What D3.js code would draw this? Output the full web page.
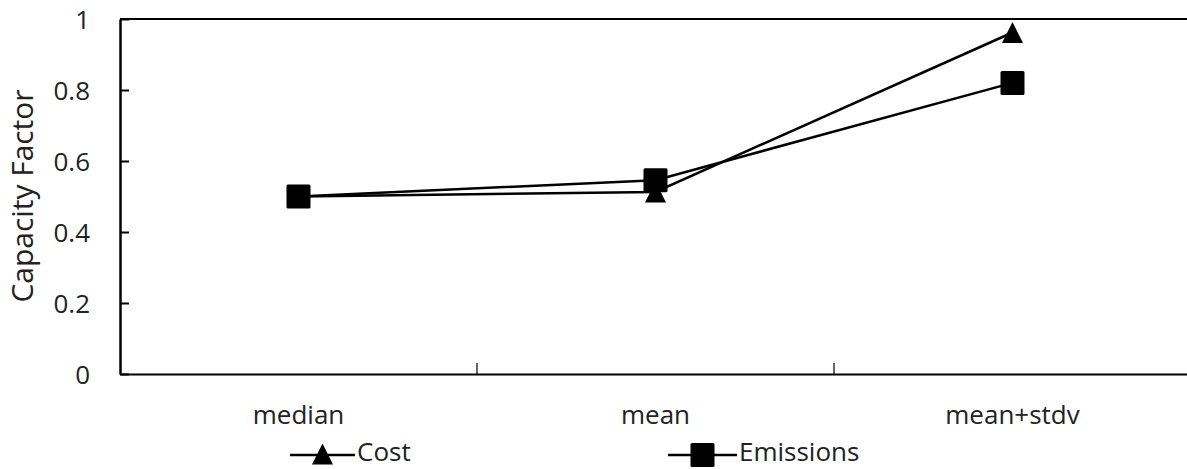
<!DOCTYPE html>
<html>
<head>
<meta charset="utf-8">
<script src="https://cdn.jsdelivr.net/npm/d3@7"></script>
<style>
    body { margin: 0; background: #fff; }
    text { font-family: 'Open Sans', sans-serif; fill: #222; }
</style>
</head>
<body>
<svg id="Chart"></svg>
<script>
let categories = ['median', 'mean', 'mean+stdv'];
let costValues = [0.5, 0.513, 0.962];
let emissionsValues = [0.5, 0.546, 0.82];
let yTicks = [0, 0.2, 0.4, 0.6, 0.8, 1];
let seriesNames = ['Cost', 'Emissions'];

function getConfig() {
    let width = 1187;
    let height = 469;
    let margin = { top: 19, bottom: 95, left: 120, right: -4 };
    let bodyWidth = width - margin.left - margin.right;
    let bodyHeight = height - margin.top - margin.bottom;
    let container = d3.select('#Chart')
        .attr('width', width)
        .attr('height', height);
    return { width, height, margin, bodyWidth, bodyHeight, container };
}

function getScales(config) {
    let { bodyWidth, bodyHeight } = config;
    let xScale = d3.scaleBand()
        .range([0, bodyWidth])
        .domain(categories);
    let yScale = d3.scaleLinear()
        .range([bodyHeight, 0])
        .domain([0, 1]);
    return { xScale, yScale };
}

// excel-ish markers
function triangle(cx, cy, s) {
    let h = s / 2;
    return `M${cx},${cy - h}L${cx + h},${cy + h}L${cx - h},${cy + h}Z`;
}

function drawMarker(g, shape, cx, cy) {
    if (shape === 'triangle') {
        g.append('path')
            .attr('d', triangle(cx, cy, 21))
            .attr('fill', '#000');
    } else {
        g.append('rect')
            .attr('x', cx - 12).attr('y', cy - 12)
            .attr('width', 24).attr('height', 24)
            .attr('rx', 1.5)
            .attr('fill', '#000');
    }
}

function drawAxes(scales, config) {
    let { xScale, yScale } = scales;
    let { container, margin, bodyWidth, bodyHeight } = config;
    let body = container.append('g')
        .attr('transform', `translate(${margin.left},${margin.top})`);

    // top border of plot area
    body.append('line')
        .attr('x1', 0).attr('x2', bodyWidth)
        .attr('y1', yScale(1)).attr('y2', yScale(1))
        .attr('stroke', '#000').attr('stroke-width', 2);

    let axisY = d3.axisLeft(yScale)
        .tickValues(yTicks)
        .tickFormat(d => d3.format('')(d))
        .tickSizeInner(-9)
        .tickSizeOuter(0)
        .tickPadding(30);
    let gy = body.append('g').call(axisY);
    gy.select('.domain').attr('stroke', '#000').attr('stroke-width', 2.5);
    gy.selectAll('.tick line').attr('stroke', '#000').attr('stroke-width', 2);
    gy.selectAll('.tick text')
        .attr('dy', '0.36em')
        .style('font-size', '26px')
        .attr('fill', '#222');

    let axisX = d3.axisBottom(xScale)
        .tickSize(0);
    let gx = body.append('g')
        .attr('transform', `translate(0,${bodyHeight})`)
        .call(axisX);
    gx.select('.domain').attr('stroke', '#000').attr('stroke-width', 2);
    gx.selectAll('.tick text')
        .attr('y', 50)
        .attr('dy', 0)
        .style('font-size', '26px')
        .attr('fill', '#222');

    // band boundary ticks
    body.selectAll('.band-tick')
        .data(categories.slice(1))
        .enter().append('line')
        .attr('x1', d => xScale(d)).attr('x2', d => xScale(d))
        .attr('y1', bodyHeight).attr('y2', bodyHeight - 11)
        .attr('stroke', '#000').attr('stroke-width', 1.2);

    container.append('text')
        .attr('transform', `translate(33,196) rotate(-90)`)
        .attr('text-anchor', 'middle')
        .attr('textLength', 213)
        .attr('lengthAdjust', 'spacingAndGlyphs')
        .style('font-size', '29px')
        .text('Capacity Factor');

    return body;
}

function drawSeries(body, scales) {
    let { xScale, yScale } = scales;
    let cx = d => xScale(d) + xScale.bandwidth() / 2;
    let series = [
        { name: seriesNames[0], values: costValues, shape: 'triangle' },
        { name: seriesNames[1], values: emissionsValues, shape: 'square' }
    ];
    let line = d3.line()
        .x((v, i) => cx(categories[i]))
        .y(v => yScale(v));

    series.forEach(s => {
        body.append('path')
            .attr('d', line(s.values))
            .attr('fill', 'none')
            .attr('stroke', '#000')
            .attr('stroke-width', 2.5);
    });
    series.forEach(s => {
        s.values.forEach((v, i) => drawMarker(body, s.shape, cx(categories[i]), yScale(v)));
    });
    return series;
}

function drawLegend(series, config) {
    let { container } = config;
    let positions = [290, 668];
    let lineLen = [65, 69];
    series.forEach((s, i) => {
        let g = container.append('g')
            .attr('transform', `translate(${positions[i]},455)`);
        g.append('line')
            .attr('x1', 0).attr('x2', lineLen[i])
            .attr('stroke', '#000').attr('stroke-width', 2.5);
        drawMarker(g, s.shape, lineLen[i] / 2, i === 0 ? -1 : 0);
        g.append('text')
            .attr('x', lineLen[i] + 2).attr('y', 6)
            .style('font-size', '26px')
            .text(s.name);
    });
}

let config = getConfig();
let scales = getScales(config);
let body = drawAxes(scales, config);
let series = drawSeries(body, scales);
drawLegend(series, config);
</script>
</body>
</html>
